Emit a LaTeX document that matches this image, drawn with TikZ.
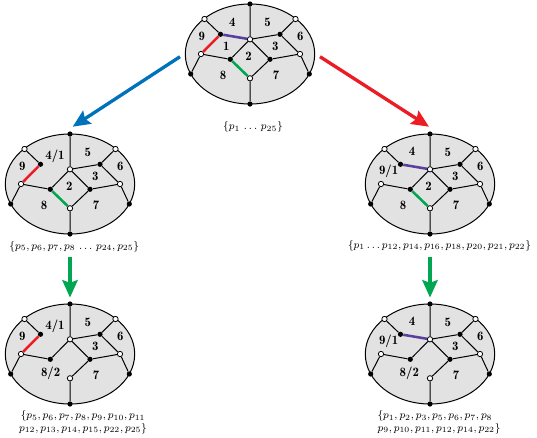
\documentclass[tikz,border=0pt]{standalone}
\usepackage{xcolor}
\usepackage{amsmath}
\usepackage{tikz}
\usetikzlibrary{arrows.meta}
\definecolor{cellgray}{HTML}{E2E2E2}
\definecolor{edgered}{HTML}{ED1C24}
\definecolor{edgegreen}{HTML}{00A651}
\definecolor{edgeviolet}{HTML}{5B3F9E}
\definecolor{arrowblue}{HTML}{0072BC}
\tikzset{
    blackpt/.style={circle, fill=black, inner sep=0pt, minimum size=3.9pt},
    whitept/.style={circle, fill=white, draw=black, line width=.6pt, inner sep=0pt, minimum size=4pt},
    celllabel/.style={font=\fontsize{9.6}{12}\fontseries{b}\selectfont, inner sep=0pt},
    captionline/.style={font=\footnotesize, inner sep=0pt, align=center},
    graphedge/.style={line width=.75pt, black},
    markededge/.style={line width=1.9pt},
    bigarrow/.style={line width=2.5pt, -{Stealth[length=13pt, width=11.5pt, inset=2pt]}}
}
% outline and vertices of one subdivision, #1 = prefix, #2 = centre
\newcommand{\cellgraph}[2]{%
    \draw[black, line width=.75pt, fill=cellgray] (#2) ellipse [x radius=64.7, y radius=50];
    \begin{scope}[shift={(#2)}]
        \node[blackpt] (#1top) at (0,-50) {};
        \node[blackpt] (#1bot) at (0,50) {};
        \node[whitept] (#1ul) at (-45.5,-35) {};
        \node[whitept] (#1ur) at (45.5,-35) {};
        \node[blackpt] (#1ll) at (-59.3,20) {};
        \node[blackpt] (#1lr) at (59.3,20) {};
        \node[blackpt] (#1a) at (-29.5,-19.7) {};
        \node[whitept] (#1c) at (0,-14.7) {};
        \node[blackpt] (#1d) at (30,-19.7) {};
        \node[whitept] (#1e) at (-49,0) {};
        \node[whitept] (#1f) at (50,0) {};
        \node[blackpt] (#1g) at (-19.7,5.3) {};
        \node[blackpt] (#1h) at (20,5.3) {};
        \node[whitept] (#1i) at (0,24.3) {};
        \node[celllabel] (#1five) at (17.7,-32) {5};
        \node[celllabel] (#1six) at (50.3,-17.3) {6};
        \node[celllabel] (#1three) at (25.3,-7.3) {3};
        \node[celllabel] (#1seven) at (26,21.7) {7};
    \end{scope}
    \draw[graphedge] (#1top) -- (#1c) (#1c) -- (#1g) (#1c) -- (#1h) (#1h) -- (#1i)
        (#1i) -- (#1bot) (#1ul) -- (#1a) (#1ur) -- (#1d) (#1d) -- (#1c) (#1d) -- (#1f)
        (#1e) -- (#1g) (#1e) -- (#1ll) (#1f) -- (#1h) (#1f) -- (#1lr);
}

\begin{document}
\begin{tikzpicture}[x=.75pt, y=-.75pt]
\useasboundingbox (0,0) rectangle (537,437);
% top
\coordinate (topc) at (250,54);
\cellgraph{t}{topc}
\node[celllabel] (tfour) at (232.3,22) {4};
\node[celllabel] (tnine) at (201.7,36.7) {9};
\node[celllabel] (tone) at (226.3,46.7) {1};
\node[celllabel] (ttwo) at (248.5,56.7) {2};
\node[celllabel] (teight) at (223,75.7) {8};
\draw[markededge, edgered] (ta) -- (te);
\draw[markededge, edgeviolet] (ta) -- (tc);
\draw[markededge, edgegreen] (tg) -- (ti);
\node[captionline] (tcap) at (253,127) {$\{p_1\,\dots\,p_{25}\}$};
% left
\coordinate (leftc) at (70,184);
\cellgraph{l}{leftc}
\node[celllabel] (lfour) at (55,156.7) {4/1};
\node[celllabel] (lnine) at (22.3,166.7) {9};
\node[celllabel] (ltwo) at (69.3,186.7) {2};
\node[celllabel] (leight) at (44,205.7) {8};
\draw[markededge, edgered] (la) -- (le);
\draw[markededge, edgegreen] (lg) -- (li);
\node[captionline] (lcap) at (74.3,246.5) {$\{p_5,p_6,p_7,p_8\,\dots\, p_{24},p_{25}\}$};
% right
\coordinate (rightc) at (430,184);
\cellgraph{r}{rightc}
\node[celllabel] (rfour) at (412,151.7) {4};
\node[celllabel] (rnine) at (388.7,171) {9/1};
\node[celllabel] (rtwo) at (428.5,186.7) {2};
\node[celllabel] (reight) at (403,205.7) {8};
\draw[markededge, edgeviolet] (ra) -- (rc);
\draw[markededge, edgegreen] (rg) -- (ri);
\node[captionline] (rcap) at (439.5,245.5) {$\{p_1\dots p_{12},p_{14},p_{16},p_{18},p_{20},p_{21},p_{22}\}$};
% bottom left
\coordinate (blc) at (70,354);
\cellgraph{bl}{blc}
\node[celllabel] (blfour) at (55,326) {4/1};
\node[celllabel] (blnine) at (22.3,336.7) {9};
\node[celllabel] (bleight) at (50.7,373.3) {8/2};
\draw[markededge, edgered] (bla) -- (ble);
\node[captionline] (blcap) at (83,422.5) {$\{p_5,p_6,p_7,p_8,p_9,p_{10},p_{11}$\\$p_{12},p_{13},p_{14},p_{15},p_{22},p_{25}\}$};
% bottom right
\coordinate (brc) at (430,354);
\cellgraph{br}{brc}
\node[celllabel] (brfour) at (412,321.7) {4};
\node[celllabel] (brnine) at (388.7,341.3) {9/1};
\node[celllabel] (breight) at (409.3,373.3) {8/2};
\draw[markededge, edgeviolet] (bra) -- (brc);
\node[captionline, align=left] (brcap) at (439,422.5) {$\{p_1,p_2,p_3,p_5,p_6,p_7,p_8$\\$p_9,p_{10},p_{11},p_{12},p_{14},p_{22}\}$};
% arrows
\coordinate (bluefrom) at (180,56.7);
\coordinate (blueto) at (72.7,126.7);
\coordinate (redfrom) at (320,56.7);
\coordinate (redto) at (429,126.7);
\coordinate (greenla) at (70,256.7);
\coordinate (greenlb) at (70,297.5);
\coordinate (greenra) at (430,256.7);
\coordinate (greenrb) at (430,297.5);
\draw[bigarrow, arrowblue] (bluefrom) -- (blueto);
\draw[bigarrow, edgered] (redfrom) -- (redto);
\draw[bigarrow, edgegreen] (greenla) -- (greenlb);
\draw[bigarrow, edgegreen] (greenra) -- (greenrb);
\end{tikzpicture}
\end{document}
